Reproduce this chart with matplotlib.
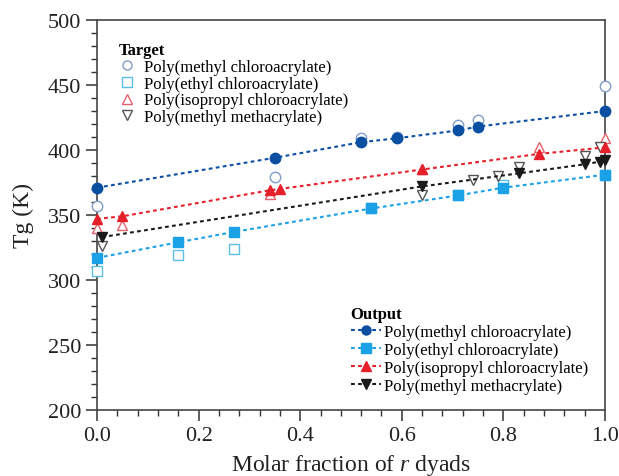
import matplotlib
matplotlib.use("Agg")
import matplotlib.pyplot as plt
from matplotlib.lines import Line2D
from matplotlib.ticker import MultipleLocator

plt.rcParams['font.family'] = ['Liberation Serif', 'DejaVu Serif']
plt.rcParams['mathtext.fontset'] = 'custom'
plt.rcParams['mathtext.rm'] = 'Liberation Serif'
plt.rcParams['mathtext.it'] = 'Liberation Serif:italic'

NAMES = ['Poly(methyl chloroacrylate)', 'Poly(ethyl chloroacrylate)',
         'Poly(isopropyl chloroacrylate)', 'Poly(methyl methacrylate)']

# target (experimental) values
t_mca_x = [0.0, 0.35, 0.52, 0.59, 0.71, 0.75, 1.0]
t_mca_y = [357, 379, 409, 410, 419, 423, 449]
t_eca_x = [0.0, 0.16, 0.27, 0.54, 0.71, 0.80, 1.0]
t_eca_y = [307, 319, 324, 355, 365, 373, 381]
t_ipca_x = [0.0, 0.05, 0.34, 0.64, 0.87, 1.0]
t_ipca_y = [340, 342, 366, 385, 402, 409]
t_pmma_x = [0.01, 0.64, 0.74, 0.79, 0.83, 0.96, 0.99]
t_pmma_y = [326, 365, 377, 380, 387, 395, 402]

# model output
o_mca_x = [0.0, 0.35, 0.52, 0.59, 0.71, 0.75, 1.0]
o_mca_y = [371, 394, 406, 409, 415, 418, 430]
o_eca_x = [0.0, 0.16, 0.27, 0.54, 0.71, 0.80, 1.0]
o_eca_y = [317, 329, 337, 355, 365, 371, 381]
o_ipca_x = [0.0, 0.05, 0.34, 0.36, 0.64, 0.87, 1.0]
o_ipca_y = [347, 349, 369, 370, 385, 397, 402]
o_pmma_x = [0.01, 0.64, 0.83, 0.96, 0.99, 1.0]
o_pmma_y = [333, 372, 382, 389, 391, 392]

out_colors = ['#0b4fa3', '#1ba1e6', '#e5202a', '#1a1a1a']
tgt_colors = ['#7f9dc8', '#5cbde9', '#e3606a', '#555555']
out_markers = ['o', 's', '^', 'v']

targets = [(t_mca_x, t_mca_y), (t_eca_x, t_eca_y), (t_ipca_x, t_ipca_y), (t_pmma_x, t_pmma_y)]
outputs = [(o_mca_x, o_mca_y), (o_eca_x, o_eca_y), (o_ipca_x, o_ipca_y), (o_pmma_x, o_pmma_y)]
dots = (0, (1.8, 1.6))

fig = plt.figure(figsize=(6.19, 4.77), dpi=100)
ax = fig.add_axes([0.1567, 0.1384, 0.8207, 0.8176])

ms = 7.5
for (x, y), c, m in zip(targets, tgt_colors, out_markers):
    ax.plot(x, y, linestyle='none', marker=m, ms=ms, mfc='white', mec=c, mew=1.0,
            zorder=3, clip_on=False)

for (x, y), c, m in zip(outputs, out_colors, out_markers):
    ax.plot(x, y, linestyle=dots, lw=1.5, color=c, marker=m, ms=ms,
            mfc=c, mec=c, zorder=4, clip_on=False)

ax.set_xlim(0, 1.0)
ax.set_ylim(200, 500)
ax.xaxis.set_major_locator(MultipleLocator(0.2))
ax.xaxis.set_minor_locator(MultipleLocator(0.04))
ax.yaxis.set_major_locator(MultipleLocator(50))
ax.yaxis.set_minor_locator(MultipleLocator(10))
ax.xaxis.set_major_formatter(matplotlib.ticker.FormatStrFormatter('%.1f'))
ax.tick_params(which='major', direction='out', length=8, width=1.1, labelsize=16, colors='#333333')
ax.tick_params(which='minor', direction='out', length=4, width=1.0, colors='#333333')
ax.tick_params(labelcolor='#222222')
for s in ax.spines.values():
    s.set_color('#444444')
    s.set_linewidth(1.2)

ax.set_xlabel('Molar fraction of $r$ dyads', fontsize=17, color='#222222', labelpad=5)
ax.set_ylabel('Tg (K)', fontsize=17, color='#222222', labelpad=10)

# legends
tgt_handles = [Line2D([], [], linestyle='none', marker=m, ms=6.5, mfc='white', mec=c, mew=1.0)
               for m, c in zip(out_markers, tgt_colors)]
leg1 = ax.legend(tgt_handles, NAMES, title='Target', loc='upper left',
                 bbox_to_anchor=(0.027, 0.965), frameon=False, fontsize=12,
                 title_fontproperties={'weight': 'bold', 'size': 12}, alignment='left',
                 handlelength=1.0, handletextpad=0.5, labelspacing=0.05, borderpad=0)
ax.add_artist(leg1)

out_handles = [Line2D([], [], linestyle=dots, lw=1.5, color=c, marker=m, ms=6.5, mfc=c, mec=c)
               for m, c in zip(out_markers, out_colors)]
ax.legend(out_handles, NAMES, title='Output', loc='upper left',
          bbox_to_anchor=(0.483, 0.289), frameon=False, fontsize=12,
          title_fontproperties={'weight': 'bold', 'size': 12}, alignment='left',
          handlelength=1.8, handletextpad=0.2, labelspacing=0.12, borderpad=0)

fig.savefig('out.png', dpi=100)
